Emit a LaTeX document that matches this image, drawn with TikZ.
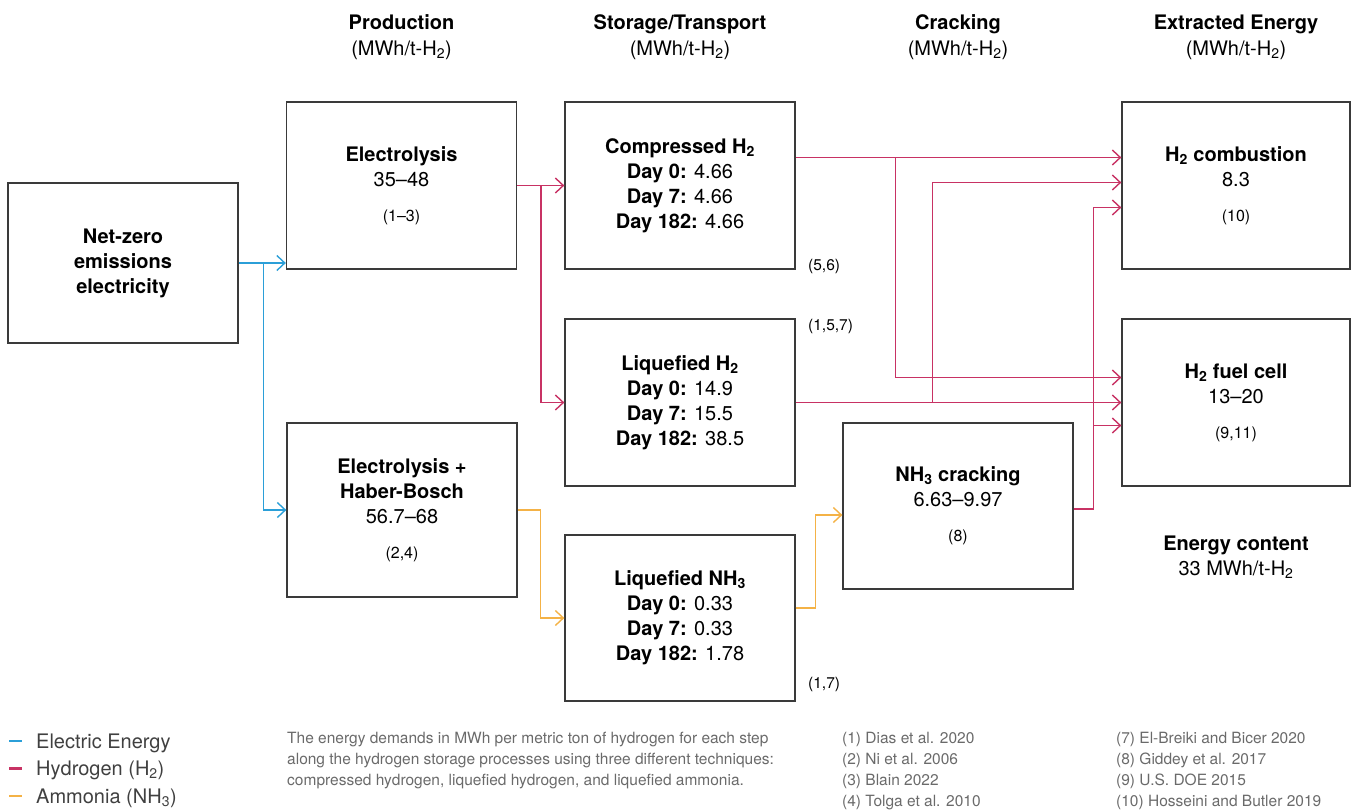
\documentclass[tikz,border=0pt]{standalone}
\usepackage{fontspec}
\setmainfont{TeX Gyre Heros}
\usetikzlibrary{arrows.meta}

\definecolor{elcol}{HTML}{2B9FD8}
\definecolor{hycol}{HTML}{C83264}
\definecolor{amcol}{HTML}{F4B246}
\definecolor{boxcol}{HTML}{3A3A3A}
\definecolor{keycol}{HTML}{404040}
\definecolor{notecol}{HTML}{6A6A6A}

\begin{document}
\begin{tikzpicture}[x=1pt, y=-1pt,
    box/.style={draw=boxcol, line width=1.3pt, minimum width=230pt, minimum height=167pt,
      inner sep=0pt, align=center, font=\fontsize{20}{25}\selectfont},
    boxb/.style={box, font=\fontsize{20}{25}\selectfont\bfseries},
    head/.style={anchor=base, font=\fontsize{20}{24}\selectfont\bfseries},
    unit/.style={anchor=base, font=\fontsize{20}{24}\selectfont},
    lab/.style={anchor=base west, inner sep=0pt, font=\fontsize{15.5}{18}\selectfont},
    keytext/.style={anchor=base west, inner sep=0pt, text=keycol, font=\fontsize{20}{24}\selectfont},
    note/.style={anchor=base west, inner sep=0pt, text=notecol, font=\fontsize{15.5}{21}\selectfont},
    link/.style={line width=1.4pt, -{Straight Barb[length=8pt,width=15pt]}},
    el/.style={link, elcol}, hy/.style={link, hycol}, am/.style={link, amcol}]
        \def\refsize{\fontsize{16}{18}\selectfont}
        \useasboundingbox (0,0) rectangle (1351,809);

        % column heads
        \foreach \x/\name [count=\i] in {401.5/Production, 680/{Storage/Transport}, 958/Cracking, 1236/{Extracted Energy}}{
          \node[head] (head\i) at (\x,29) {\name};
          \node[unit] (unit\i) at (\x,55) {(MWh/t-H\textsubscript{2})};
        }

        \node[boxb, minimum height=160pt] (net) at (123,263) {Net-zero\\emissions\\electricity};
        \node[box] (elec) at (401.5,185.5) {\textbf{Electrolysis}\\35–48\\[10pt]{\refsize (1–3)}};
        \node[box, minimum height=174pt] (hb) at (402,510) {\textbf{Electrolysis +}\\\textbf{Haber-Bosch}\\56.7–68\\[10pt]{\refsize (2,4)}};
        \node[box] (comp) at (680,185.5) {\textbf{Compressed H\textsubscript{2}}\\\textbf{Day 0:} 4.66\\\textbf{Day 7:} 4.66\\\textbf{Day 182:} 4.66};
        \node[box] (liqh) at (680,402.5) {\textbf{Liquefied H\textsubscript{2}}\\\textbf{Day 0:} 14.9\\\textbf{Day 7:} 15.5\\\textbf{Day 182:} 38.5};
        \node[box, minimum height=166pt] (liqn) at (680,618) {\textbf{Liquefied NH\textsubscript{3}}\\\textbf{Day 0:} 0.33\\\textbf{Day 7:} 0.33\\\textbf{Day 182:} 1.78};
        \node[box, minimum height=166pt] (crack) at (958,506) {\textbf{NH\textsubscript{3} cracking}\\6.63–9.97\\[10pt]{\refsize (8)}};
        \node[box, minimum width=228pt] (comb) at (1236,185.5) {\textbf{H\textsubscript{2} combustion}\\8.3\\[10pt]{\refsize (10)}};
        \node[box, minimum width=228pt] (cell) at (1236,402.5) {\textbf{H\textsubscript{2} fuel cell}\\13–20\\[10pt]{\refsize (9,11)}};

        \node[lab] (refcomp) at (808,270) {(5,6)};
        \node[lab] (refliqh) at (808,330) {(1,5,7)};
        \node[lab] (refliqn) at (808,688) {(1,7)};

        \node[head] (econt) at (1236,550) {Energy content};
        \node[unit] (eval) at (1236,575) {33 MWh/t-H\textsubscript{2}};

        % electricity
        \draw[el] (net.east) -- (net.east -| elec.west);
        \draw[el] ([xshift=25pt]net.east) |- (hb.west);
        % hydrogen
        \draw[hy] (elec.east) -- (comp.west);
        \draw[hy] ([xshift=24pt]elec.east) |- (liqh.west);
        \draw[hy] ([yshift=28pt]comp.east) -- ([yshift=28pt]comb.west);
        \draw[hy] ([xshift=100pt,yshift=28pt]comp.east) |- ([yshift=25pt]cell.west);
        \draw[hy] (liqh.east) -- (cell.west);
        \draw[hy] ([xshift=137pt]liqh.east) |- ([yshift=3pt]comb.west);
        \draw[hy] ([yshift=-3pt]crack.east) -| ([xshift=-28pt,yshift=-22pt]comb.west) -- ([yshift=-22pt]comb.west);
        \draw[hy] ([xshift=-28pt,yshift=-23pt]cell.west) -- ([yshift=-23pt]cell.west);
        % ammonia
        \draw[am] (hb.east) -| ([xshift=-24pt]liqn.west) -- (liqn.west);
        \draw[am] ([yshift=10pt]liqn.east) -| ([xshift=-27pt,yshift=-9pt]crack.west) -- ([yshift=-9pt]crack.west);

        % legend
        \foreach \c/\t [count=\i] in {elcol/Electric Energy, hycol/Hydrogen (H\textsubscript{2}), amcol/Ammonia (NH\textsubscript{3})}{
          \draw[\c, line width=2.5pt] (9,{741+27.5*(\i-1)}) -- (22,{741+27.5*(\i-1)});
          \node[keytext] (key\i) at (36,{748+27.5*(\i-1)}) {\t};
        }

        \foreach \t [count=\i] in {The energy demands in MWh per metric ton of hydrogen for each step, along the hydrogen storage processes using three different techniques:, {compressed hydrogen, liquefied hydrogen, and liquefied ammonia.}}{
          \node[note] (cap\i) at (287,{743+21*(\i-1)}) {\t};
        }
        \foreach \t [count=\i] in {{(1) Dias et al. 2020}, {(2) Ni et al. 2006}, {(3) Blain 2022}, {(4) Tolga et al. 2010}}{
          \node[note] (refa\i) at (842,{743+21*(\i-1)}) {\t};
        }
        \foreach \t [count=\i] in {{(7) El-Breiki and Bicer 2020}, {(8) Giddey et al. 2017}, {(9) U.S. DOE 2015}, {(10) Hosseini and Butler 2019}}{
          \node[note] (refb\i) at (1116,{743+21*(\i-1)}) {\t};
        }
\end{tikzpicture}
\end{document}
